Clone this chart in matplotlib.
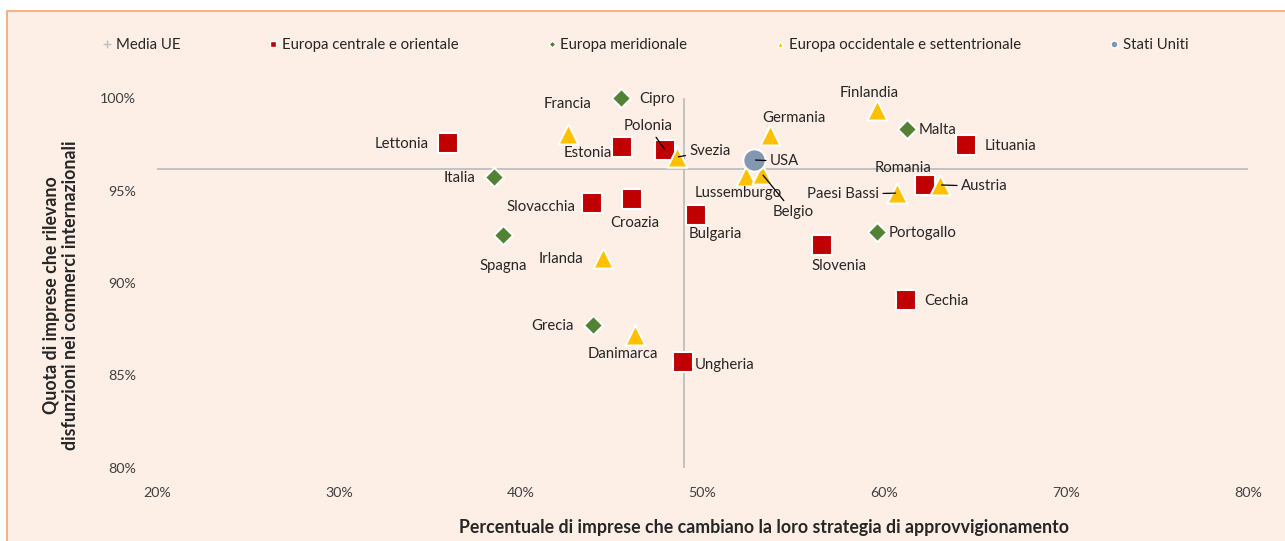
import matplotlib.pyplot as plt
from matplotlib.lines import Line2D
from matplotlib.patches import Rectangle

plt.rcParams['font.family'] = ['Lato', 'DejaVu Sans']

# Europa centrale e orientale
cen_names = ["Lettonia", "Estonia", "Polonia", "Slovacchia", "Croazia", "Bulgaria",
             "Ungheria", "Lituania", "Romania", "Slovenia", "Cechia"]
cen_x = [36.0, 45.58, 47.94, 43.93, 46.13, 49.65, 48.93, 64.50, 62.24, 56.58, 61.20]
cen_y = [97.57, 97.35, 97.19, 94.32, 94.54, 93.68, 85.73, 97.46, 95.30, 92.05, 89.08]

# Europa meridionale
sud_names = ["Cipro", "Italia", "Spagna", "Grecia", "Malta", "Portogallo"]
sud_x = [45.52, 38.54, 39.03, 43.98, 61.25, 59.60]
sud_y = [100.0, 95.73, 92.59, 87.73, 98.32, 92.76]

# Europa occidentale e settentrionale
ovest_names = ["Francia", "Svezia", "Irlanda", "Danimarca", "Germania", "Lussemburgo",
               "Belgio", "Finlandia", "Austria", "Paesi Bassi"]
ovest_x = [42.60, 48.60, 44.53, 46.29, 53.72, 52.40, 53.28, 59.60, 63.07, 60.70]
ovest_y = [98.05, 96.81, 91.35, 87.19, 98.00, 95.78, 95.89, 99.35, 95.30, 94.86]

# Stati Uniti
usa_x = [52.84]
usa_y = [96.65]

# Media UE
ue_x = 48.99
ue_y = 96.16

# label offsets (points) and whether a leader line is drawn
offsets = {
    "Lettonia": (-33, -1), "Estonia": (-25, -4), "Polonia": (-12, 17),
    "Slovacchia": (-37, -3), "Croazia": (2, -17), "Bulgaria": (14, -14),
    "Ungheria": (30, -2), "Lituania": (32, -1), "Romania": (-16, 12),
    "Slovenia": (12, -15), "Cechia": (29, -1),
    "Cipro": (26, -1), "Italia": (-25, -1), "Spagna": (0, -22), "Grecia": (-29, -1),
    "Malta": (22, -1), "Portogallo": (33, -1),
    "Francia": (0, 22), "Svezia": (24, 4), "Irlanda": (-30, -1), "Danimarca": (-9, -14),
    "Germania": (17, 12), "Lussemburgo": (-6, -12), "Belgio": (22, -27),
    "Finlandia": (-6, 12), "Austria": (32, -1), "Paesi Bassi": (-39, -1),
    "USA": (22, -1),
}
leaders = ["Polonia", "Svezia", "Belgio", "Austria", "Paesi Bassi", "USA"]

red = "#C00000"
green = "#548235"
yellow = "#FFC000"
blue = "#8497B0"

fig = plt.figure(figsize=(12.85, 5.41), dpi=100)
fig.patches.append(Rectangle((7 / 1285, -0.01), 1.0, 1 - 11 / 541 + 0.01,
                             transform=fig.transFigure, facecolor="#FDEEE6",
                             edgecolor="#F4A46E", linewidth=1.2, zorder=-1))

ax = fig.add_axes([157 / 1285, 1 - 468 / 541, (1248 - 157) / 1285, (468 - 98) / 541])
ax.set_facecolor("none")
ax.set_xlim(20, 80)
ax.set_ylim(80, 100)

# media UE cross
ax.plot([20, 80], [ue_y, ue_y], color="#BFBFBF", lw=1.3, zorder=1)
ax.plot([ue_x, ue_x], [80, 100], color="#BFBFBF", lw=1.3, zorder=1)

ax.scatter(cen_x, cen_y, marker="s", s=190, color=red, edgecolors="white", linewidths=1.5, zorder=3, clip_on=False)
ax.scatter(sud_x, sud_y, marker="D", s=95, color=green, edgecolors="white", linewidths=1.5, zorder=3, clip_on=False)
ax.scatter(ovest_x, ovest_y, marker="^", s=210, color=yellow, edgecolors="white", linewidths=1.5, zorder=3, clip_on=False)
ax.scatter(usa_x, usa_y, marker="o", s=260, color=blue, edgecolors="white", linewidths=1.5, zorder=3, clip_on=False)

all_names = cen_names + sud_names + ovest_names + ["USA"]
all_x = cen_x + sud_x + ovest_x + usa_x
all_y = cen_y + sud_y + ovest_y + usa_y
for n, x, y in zip(all_names, all_x, all_y):
    dx, dy = offsets[n]
    kw = {}
    if n in leaders:
        kw["arrowprops"] = dict(arrowstyle="-", color="black", lw=0.9, shrinkA=1, shrinkB=1)
    ax.annotate(n, (x, y), xytext=(dx, dy), textcoords="offset points",
                ha="center", va="center", fontsize=10.7, color="#262626", zorder=5, **kw)

ax.set_xticks([20, 30, 40, 50, 60, 70, 80])
ax.set_xticklabels(["20%", "30%", "40%", "50%", "60%", "70%", "80%"])
ax.set_yticks([80, 85, 90, 95, 100])
ax.set_yticklabels(["80%", "85%", "90%", "95%", "100%"])
ax.tick_params(axis="x", length=0, pad=14, labelsize=10.3, labelcolor="#404040")
ax.tick_params(axis="y", length=0, pad=15, labelsize=10.3, labelcolor="#404040")
for sp in ax.spines.values():
    sp.set_visible(False)

fig.text(764 / 1285, 1 - 528 / 541, "Percentuale di imprese che cambiano la loro strategia di approvvigionamento",
         ha="center", va="center", fontsize=12.8, fontweight="bold", color="#262626")
fig.text(61 / 1285, 1 - 295 / 541, "Quota di imprese che rilevano\ndisfunzioni nei commerci internazionali",
         ha="center", va="center", rotation=90, fontsize=12.8, fontweight="bold", color="#262626",
         linespacing=1.1)

handles = [
    Line2D([], [], marker="+", color="#BFBFBF", ls="none", markersize=6),
    Line2D([], [], marker="s", color=red, ls="none", markersize=5, markeredgecolor="white"),
    Line2D([], [], marker="D", color=green, ls="none", markersize=3.5, markeredgecolor="white"),
    Line2D([], [], marker="^", color=yellow, ls="none", markersize=5, markeredgecolor="white"),
    Line2D([], [], marker="o", color=blue, ls="none", markersize=5, markeredgecolor="white"),
]
labels = ["Media UE", "Europa centrale e orientale", "Europa meridionale",
          "Europa occidentale e settentrionale", "Stati Uniti"]
fig.legend(handles, labels, loc="center left", bbox_to_anchor=(89 / 1285, 1 - 45 / 541),
           ncol=5, frameon=False, fontsize=10.7, handlelength=0.6, handletextpad=0.3,
           columnspacing=5.95, labelcolor="#262626")

fig.savefig("out.png", dpi=100)
